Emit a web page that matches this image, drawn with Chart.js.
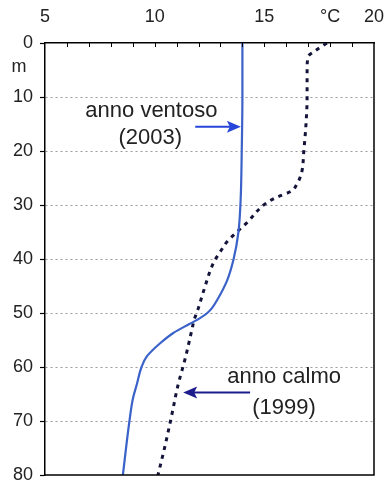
<!DOCTYPE html>
<html>
<head>
<meta charset="utf-8">
<script src="https://cdn.jsdelivr.net/npm/chart.js@4.4.1/dist/chart.umd.min.js"></script>
<style>
  html, body { margin: 0; padding: 0; background: #fff; }
  canvas { display: block; }
</style>
</head>
<body>
<canvas id="c" width="385" height="486"></canvas>
<script>
// Water temperature (°C) against depth (m)
const depths2003 = [0, 10, 20, 29, 35, 40, 44, 47.6, 49, 50, 51, 52, 53.7, 55.6, 58, 60, 63, 66, 70, 80];
const temps2003  = [14.0, 14.0, 13.97, 13.92, 13.82, 13.6, 13.3, 12.85, 12.63, 12.4, 12.05, 11.6, 10.85, 10.25, 9.65, 9.4, 9.2, 9.0, 8.85, 8.55];

const depths1999 = [0, 1.5, 2.5, 5, 10, 15, 20, 24, 26, 27.5, 28.5, 29.6, 33.3, 35, 36.8, 38.6, 40.4, 42.3, 44.4, 47, 49, 51.3, 53.4, 58.3, 63.6, 68.5, 75, 80];
const temps1999  = [17.85, 17.3, 17.0, 16.95, 16.95, 16.9, 16.8, 16.7, 16.5, 16.2, 15.6, 15.1, 14.2, 13.75, 13.3, 13.0, 12.72, 12.52, 12.35, 12.15, 12.0, 11.8, 11.68, 11.4, 11.05, 10.8, 10.45, 10.15];

const tempLabels  = [5, 10, 15, 20];   // labelled temperatures on the top axis
const unitTemp    = 18;                // where the °C unit sits on the top axis
const depthLabels = [0, 10, 20, 30, 40, 50, 60, 70, 80];

const seriesNames = ['anno ventoso (2003)', 'anno calmo (1999)'];

const toPoints = (d, t) => d.map((v, i) => ({ x: t[i], y: v }));

const FONT = '"Liberation Sans", Arial, sans-serif';

const decorations = {
  id: 'decorations',
  afterDraw(chart) {
    const { ctx, chartArea: a, scales: { x, y } } = chart;
    ctx.save();

    // right and bottom sides of the frame
    ctx.strokeStyle = '#000';
    ctx.lineWidth = 1.5;
    ctx.beginPath();
    ctx.moveTo(a.right, a.top);
    ctx.lineTo(a.right, a.bottom);
    ctx.lineTo(a.left, a.bottom);
    ctx.stroke();

    // minor ticks pointing inward from the top axis
    ctx.lineWidth = 1;
    ctx.beginPath();
    for (let t = x.min + 1; t < x.max; t++) {
      const px = Math.round(x.getPixelForValue(t)) + 0.5;
      ctx.moveTo(px, a.top);
      ctx.lineTo(px, a.top + 4);
    }
    ctx.stroke();

    // depth unit
    ctx.fillStyle = '#222';
    ctx.font = '18px ' + FONT;
    ctx.textAlign = 'center';
    ctx.textBaseline = 'middle';
    ctx.fillText('m', 19, y.getPixelForValue(4.4));

    // series captions with arrows
    ctx.font = '22px ' + FONT;
    ctx.fillStyle = '#222';
    ctx.fillText('anno ventoso', x.getPixelForValue(9.85), y.getPixelForValue(12.6));
    ctx.fillText('(2003)', x.getPixelForValue(9.8), y.getPixelForValue(17.6));
    ctx.fillText('anno calmo', x.getPixelForValue(15.9), y.getPixelForValue(61.8));
    ctx.fillText('(1999)', x.getPixelForValue(15.9), y.getPixelForValue(67.6));

    const arrow = (t1, d1, t2, d2, color) => {
      const x1 = x.getPixelForValue(t1), y1 = y.getPixelForValue(d1);
      const x2 = x.getPixelForValue(t2), y2 = y.getPixelForValue(d2);
      const ang = Math.atan2(y2 - y1, x2 - x1);
      const hl = 14, hw = 6;
      const bx = x2 - hl * Math.cos(ang), by = y2 - hl * Math.sin(ang);
      ctx.strokeStyle = color;
      ctx.fillStyle = color;
      ctx.lineWidth = 2;
      ctx.beginPath();
      ctx.moveTo(x1, y1);
      ctx.lineTo(bx + 4 * Math.cos(ang), by + 4 * Math.sin(ang));
      ctx.stroke();
      ctx.beginPath();
      ctx.moveTo(x2, y2);
      ctx.lineTo(bx - hw * Math.sin(ang), by + hw * Math.cos(ang));
      ctx.lineTo(bx + 3 * Math.cos(ang), by + 3 * Math.sin(ang));
      ctx.lineTo(bx + hw * Math.sin(ang), by - hw * Math.cos(ang));
      ctx.closePath();
      ctx.fill();
    };
    arrow(11.85, 15.5, 13.93, 15.5, '#2546d8');
    arrow(14.35, 64.7, 11.3, 64.7, '#1c1c8c');

    ctx.restore();
  }
};

new Chart(document.getElementById('c'), {
  type: 'line',
  data: {
    datasets: [
      {
        label: seriesNames[0],
        data: toPoints(depths2003, temps2003),
        borderColor: '#3a62c9',
        borderWidth: 2.2,
        pointRadius: 0,
        cubicInterpolationMode: 'monotone',
        fill: false
      },
      {
        label: seriesNames[1],
        data: toPoints(depths1999, temps1999),
        borderColor: '#14143a',
        borderWidth: 3,
        borderDash: [4, 5],
        borderCapStyle: 'butt',
        pointRadius: 0,
        cubicInterpolationMode: 'monotone',
        fill: false
      }
    ]
  },
  options: {
    responsive: false,
    animation: false,
    devicePixelRatio: 1,
    indexAxis: 'y',
    layout: { padding: { left: 0, top: 0, right: 11, bottom: 11 } },
    plugins: {
      legend: { display: false },
      tooltip: { enabled: false }
    },
    scales: {
      x: {
        type: 'linear',
        position: 'top',
        min: 5,
        max: 20,
        afterBuildTicks(scale) {
          scale.ticks = tempLabels.concat([unitTemp]).sort((p, q) => p - q).map(v => ({ value: v }));
        },
        afterFit(scale) {
          scale.height = 43;
          scale.paddingLeft = 0;
          scale.paddingRight = 0;
        },
        ticks: {
          autoSkip: false,
          maxRotation: 0,
          padding: 15,
          color: '#222',
          font: { family: FONT, size: 18 },
          callback: v => (v === unitTemp ? '°C' : String(v))
        },
        grid: { display: false, drawTicks: false },
        border: { display: true, color: '#000', width: 1.5 }
      },
      y: {
        type: 'linear',
        reverse: true,
        min: 0,
        max: 80,
        afterBuildTicks(scale) {
          scale.ticks = depthLabels.map(v => ({ value: v }));
        },
        afterFit(scale) {
          scale.width = 45;
          scale.paddingTop = 0;
          scale.paddingBottom = 0;
        },
        ticks: {
          autoSkip: false,
          padding: 7,
          color: '#222',
          font: { family: FONT, size: 18 }
        },
        grid: {
          color: ctx => (ctx.tick && (ctx.tick.value === 0 || ctx.tick.value === 80)) ? 'rgba(0,0,0,0)' : '#9a9a9a',
          lineWidth: 1,
          drawTicks: true,
          tickLength: 5,
          tickColor: '#000',
          tickWidth: 1.2
        },
        border: { display: true, color: '#000', width: 1.5, dash: [2, 3] }
      }
    }
  },
  plugins: [decorations]
});
</script>
</body>
</html>
